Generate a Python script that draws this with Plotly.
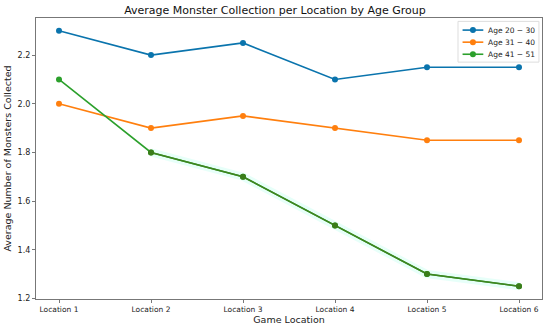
import plotly.graph_objects as go

locations = ["Location 1", "Location 2", "Location 3", "Location 4", "Location 5", "Location 6"]
age_20_30 = [2.3, 2.2, 2.25, 2.1, 2.15, 2.15]
age_31_40 = [2.0, 1.9, 1.95, 1.9, 1.85, 1.85]
age_41_51 = [2.1, 1.8, 1.7, 1.5, 1.3, 1.25]
series_names = ["Age 20 − 30", "Age 31 − 40", "Age 41 − 51"]
colors = ["#0a74ad", "#ff7f0e", "#2ca02c"]

x = list(range(len(locations)))
fig = go.Figure()

# faint glow under the green line (later locations)
fig.add_trace(go.Scatter(x=x[1:], y=age_41_51[1:], mode="lines",
                         line=dict(color="rgba(225,255,248,0.8)", width=8),
                         showlegend=False, hoverinfo="skip"))

for name, vals, c in zip(series_names, [age_20_30, age_31_40, age_41_51], colors):
    fig.add_trace(go.Scatter(x=x, y=vals, mode="lines+markers", name=name,
                             line=dict(color=c, width=1.6),
                             marker=dict(color=c, size=6), showlegend=False))

# darker overlay on green segment
fig.add_trace(go.Scatter(x=x[1:], y=age_41_51[1:], mode="lines+markers",
                         line=dict(color="#3f8420", width=1.6),
                         marker=dict(color="#3a7d1a", size=6),
                         showlegend=False, hoverinfo="skip"))

# custom compact legend (paper coordinates)
shapes = [dict(type="rect", xref="paper", yref="paper", x0=0.834, x1=0.994, y0=0.843, y1=0.988,
               line=dict(color="#dddddd", width=1), fillcolor="rgba(255,255,255,0.85)", layer="above")]
annotations = []
row_y = [0.957, 0.914, 0.871]
for name, c, ry in zip(series_names, colors, row_y):
    shapes.append(dict(type="line", xref="paper", yref="paper", x0=0.843, x1=0.884, y0=ry, y1=ry,
                       line=dict(color=c, width=1.6), layer="above"))
    shapes.append(dict(type="circle", xref="paper", yref="paper", xsizemode="pixel", ysizemode="pixel",
                       xanchor=0.8635, yanchor=ry, x0=-3, x1=3, y0=-3, y1=3,
                       fillcolor=c, line=dict(color=c, width=0), layer="above"))
    annotations.append(dict(text=name, xref="paper", yref="paper", x=0.889, y=ry,
                            xanchor="left", yanchor="middle", showarrow=False,
                            font=dict(size=7.5, color="#222")))

fig.update_layout(
    width=550, height=329,
    margin=dict(l=36, r=8, t=18, b=30, autoexpand=False),
    paper_bgcolor="white", plot_bgcolor="white",
    font=dict(family="DejaVu Sans", color="#222"),
    title=dict(text="Average Monster Collection per Location by Age Group",
               x=0.5, xanchor="center", y=0.97, yanchor="middle",
               font=dict(size=11, color="#111")),
    showlegend=False,
    shapes=shapes, annotations=annotations,
)
fig.update_xaxes(range=[-0.25, 5.25], tickmode="array", tickvals=x, ticktext=locations,
                 showgrid=False, zeroline=False, showline=True, linecolor="#777", linewidth=1.2,
                 mirror=True, ticks="outside", ticklen=3, tickcolor="#777", automargin=False,
                 tickfont=dict(size=7.5), title=dict(text="Game Location", font=dict(size=9.5), standoff=2))
fig.update_yaxes(range=[1.1975, 2.3525], tickmode="array",
                 tickvals=[1.2, 1.4, 1.6, 1.8, 2.0, 2.2],
                 ticktext=["1.2", "1.4", "1.6", "1.8", "2.0", "2.2"],
                 showgrid=False, zeroline=False, showline=True, linecolor="#777", linewidth=1.2,
                 mirror=True, ticks="outside", ticklen=3, tickcolor="#777", automargin=False,
                 tickfont=dict(size=8), title=dict(text="Average Number of Monsters Collected",
                                                    font=dict(size=9.5), standoff=4))

fig.write_html("out.html", config={"displayModeBar": False},
               post_script="document.body.style.margin='0';")
